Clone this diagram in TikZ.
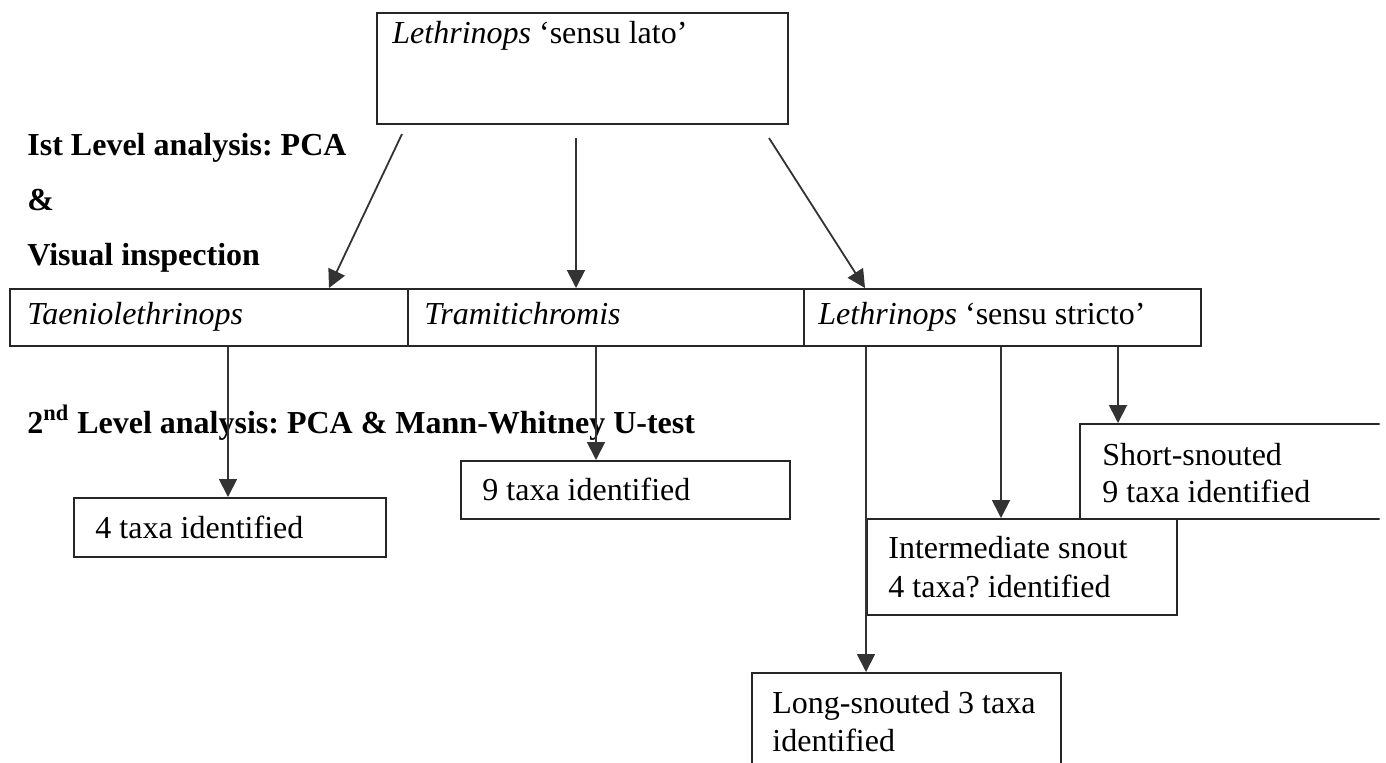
\documentclass[tikz,border=0pt]{standalone}
\usepackage{fontspec}
\setmainfont{Liberation Serif}
\usetikzlibrary{arrows.meta,calc,fit}
\frenchspacing
\begin{document}
\begin{tikzpicture}[x=0.5pt,y=-0.5pt,
  box/.style={draw=black!85, line width=1pt, inner sep=0pt},
  txt/.style={anchor=base west, inner sep=0pt, font=\fontsize{16}{19}\selectfont},
  hd/.style={anchor=base west, inner sep=0pt, font=\fontsize{16}{19}\selectfont\bfseries},
  arr/.style={draw=black!80, line width=0.9pt, -{Triangle[length=9pt,width=9pt]}}
]
\useasboundingbox (0,0) rectangle (1386,762);
\clip (0,0) rectangle (1379.5,762);

% boxes
\node[box, fit={(377,13) (788,124)}] (top) {};
\node[box, fit={(10,289) (408,346)}] (taen) {};
\node[box, fit={(408,289) (804,346)}] (tram) {};
\node[box, fit={(804,289) (1201,346)}] (lss) {};
\node[box, fit={(74,498) (386,557)}] (four) {};
\node[box, fit={(461,461) (790,519)}] (nine) {};
\node[box, fit={(1080,424) (1420,519)}] (short) {};
\node[box, fit={(867,519) (1177,615)}] (inter) {};
\node[box, fit={(752,673) (1061,800)}] (long) {};

% texts
\node[txt] (ttop) at (392,43) {\textit{Lethrinops} ‘sensu lato’};
\node[txt] (ttaen) at (27,324) {\textit{Taeniolethrinops}};
\node[txt] (ttram) at (424,324) {\textit{Tramitichromis}};
\node[txt] (tlss) at (818,324) {\textit{Lethrinops} ‘sensu stricto’};
\node[txt] (tfour) at (95,538) {4 taxa identified};
\node[txt] (tnine) at (482,500) {9 taxa identified};
\node[txt] (tshort1) at (1102,465) {Short-snouted};
\node[txt] (tshort2) at (1102,502) {9 taxa identified};
\node[txt] (tint1) at (888,558) {Intermediate snout};
\node[txt] (tint2) at (888,597) {4 taxa? identified};
\node[txt] (tlong1) at (772,713) {Long-snouted 3 taxa};
\node[txt] (tlong2) at (772,751) {identified};

\node[hd] (l1) at (27,155) {Ist Level analysis: PCA};
\node[hd] (l2) at (27,210) {\&};
\node[hd] (l3) at (27,265) {Visual inspection};
\node[hd] (l4) at (27,433) {2\textsuperscript{nd} Level analysis: PCA \& Mann-Whitney U-test};

% first level arrows
\draw[arr] ($(top.south west)+(26,9)$) -- ($(taen.north west)+(320,0)$);
\draw[arr] ($(top.south west)+(200,13)$) -- ($(tram.north west)+(169,0)$);
\draw[arr] ($(top.south west)+(393,13)$) -- ($(lss.north west)+(62,0)$);

% second level arrows
\draw[arr] ($(taen.south west)+(219,0)$) coordinate (p1) -- (p1 |- four.north);
\draw[arr] ($(tram.south west)+(189,0)$) coordinate (p2) -- (p2 |- nine.north);
\draw[arr] ($(lss.south west)+(63,0)$) coordinate (p3) -- (p3 |- long.north);
\draw[arr] ($(lss.south west)+(198,0)$) coordinate (p4) -- (p4 |- inter.north);
\draw[arr] ($(lss.south west)+(315,0)$) coordinate (p5) -- (p5 |- short.north);
\end{tikzpicture}
\end{document}
